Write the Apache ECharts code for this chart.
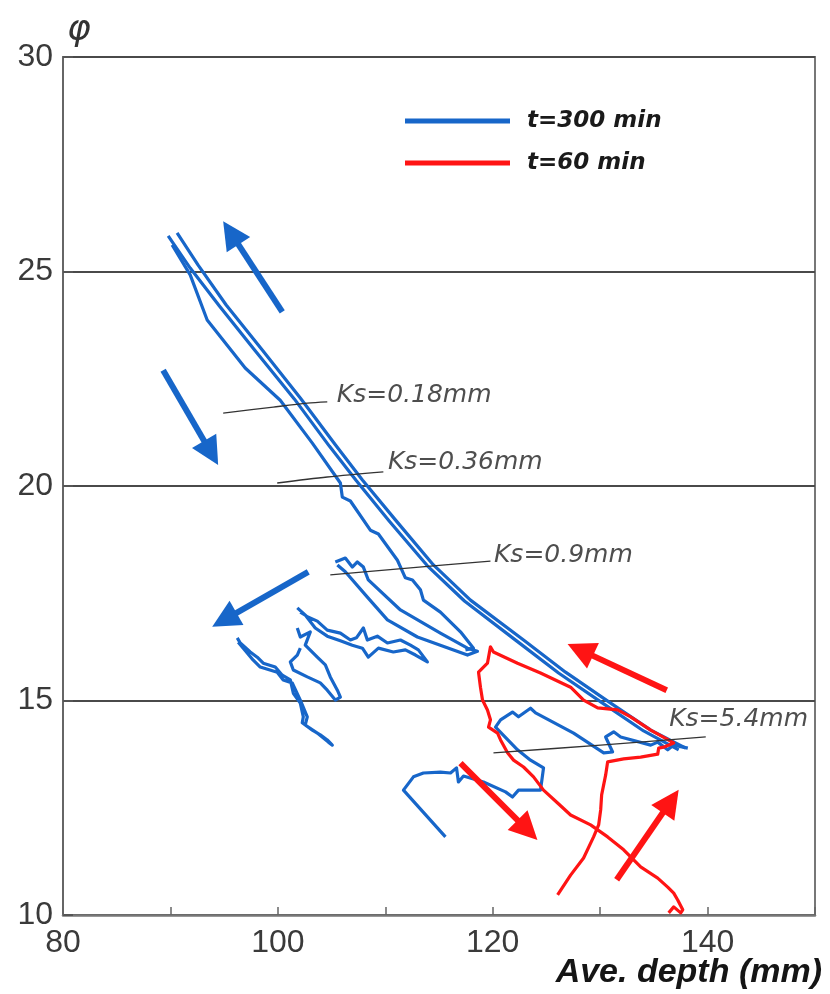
<!DOCTYPE html>
<html>
<head>
<meta charset="utf-8">
<script src="https://cdn.jsdelivr.net/npm/echarts@6/dist/echarts.min.js"></script>
<style>
  html, body { margin: 0; padding: 0; background: #ffffff; }
  #chart { width: 830px; height: 994px; }
</style>
</head>
<body>
<div id="chart"></div>
<script>
// Friction angle φ against average flow depth (mm), hysteresis traces.

// t = 300 min, smooth bed (Ks = 0.18 / 0.36 mm): rising and falling branches
const bandUp = [[90.62,25.90],[92.58,25.15],[95.19,24.22],[98.55,23.17],[102.09,22.05],[105.35,20.96],[107.87,20.14],[110.94,19.21],[114.48,18.16],[117.93,17.34],[122.87,16.41],[126.78,15.66],[130.98,14.94],[134.71,14.31],[137.97,13.89]];
const bandDown = [[89.79,25.83],[91.84,25.08],[94.54,24.20],[97.89,23.15],[101.53,22.03],[104.79,20.93],[107.31,20.12],[110.38,19.18],[113.92,18.14],[117.37,17.32],[122.22,16.39],[126.13,15.64],[130.33,14.92],[134.05,14.29],[137.31,13.85]];
const thinLeft = [[90.16,25.62],[91.84,24.92],[93.42,23.87],[96.96,22.75],[100.22,22.00],[103.21,21.00],[105.82,20.07],[106.00,19.74],[106.75,19.65],[108.61,18.97],[109.36,18.88],[111.13,18.27],[111.87,17.86],[112.53,17.81],[113.27,17.58],[113.55,17.34],[115.13,17.06],[117.00,16.60],[118.21,16.22],[117.46,16.18]];

// t = 300 min, Ks = 0.9 mm: jagged loops
const loopN = [[105.35,18.23],[106.28,18.32],[106.93,18.11],[107.40,18.23],[107.96,18.11],[108.42,17.81],[111.41,17.11],[115.13,16.57],[117.65,16.22],[118.58,16.15],[117.65,16.06],[116.35,16.18],[112.99,16.48],[110.20,16.88],[108.33,17.41],[106.28,18.00],[105.54,18.16]];
const loopJ = [[101.81,17.16],[102.74,16.95],[103.67,16.85],[104.60,16.64],[105.82,16.57],[106.75,16.41],[107.31,16.46],[107.96,16.69],[108.33,16.41],[109.26,16.50],[110.20,16.34],[111.41,16.41],[112.34,16.29],[113.08,16.18],[113.92,15.90],[112.81,16.06],[111.87,16.18],[110.75,16.13],[109.36,16.22],[108.42,16.01],[107.87,16.22],[106.93,16.29],[105.82,16.39],[104.60,16.50],[103.48,16.69],[102.55,16.99],[102.09,17.06]];
const loopJLow = [[101.81,16.69],[102.09,16.48],[103.02,16.60],[102.55,16.29],[103.67,16.01],[104.42,15.83],[104.88,15.55],[105.54,15.24],[105.82,15.08],[105.35,15.01],[104.60,15.24],[103.95,15.41],[102.74,15.55],[101.44,15.71],[101.16,15.90],[101.81,16.06],[102.09,16.22]];
const loopK = [[96.22,16.46],[96.50,16.34],[97.43,16.13],[98.08,16.01],[98.64,15.87],[99.76,15.78],[100.41,15.59],[101.16,15.48],[101.44,15.17],[102.09,14.94],[102.37,14.62],[102.27,14.48],[103.21,14.31],[103.95,14.20],[104.60,14.08],[105.07,13.96],[104.70,14.03],[103.67,14.24],[102.55,14.43],[102.74,14.62],[102.09,15.01],[101.34,15.41],[100.50,15.48],[99.94,15.66],[98.36,15.78],[97.71,15.94],[96.78,16.22],[96.31,16.36]];

// t = 300 min, Ks = 5.4 mm
const ks54 = [[115.60,11.82],[111.69,12.91],[112.62,13.22],[113.55,13.31],[115.13,13.33],[116.07,13.31],[116.63,13.43],[116.81,13.10],[117.28,13.24],[119.14,13.10],[121.19,12.87],[121.84,12.75],[122.40,12.91],[124.45,12.91],[124.73,13.43],[123.52,13.61],[122.31,13.85],[120.26,14.38],[120.73,14.55],[121.84,14.73],[122.40,14.62],[123.52,14.82],[123.99,14.71],[127.53,14.24],[130.33,13.78],[131.16,13.80],[130.51,14.15],[131.26,14.27],[131.91,14.15],[134.71,13.96],[135.36,14.03],[136.29,13.85],[136.85,13.96],[138.16,13.89]];

// t = 60 min
const red60 = [[126.04,10.47],[127.25,10.93],[128.46,11.33],[129.39,11.82],[129.86,12.10],[130.05,12.45],[130.14,12.80],[130.51,13.26],[130.70,13.57],[132.19,13.64],[133.77,13.68],[135.36,13.75],[135.45,13.89],[136.01,13.92],[136.85,14.01],[134.71,14.31],[132.84,14.62],[131.63,14.78],[129.77,14.83],[128.46,15.01],[127.25,15.31],[124.45,15.64],[122.31,15.87],[120.07,16.13],[119.79,16.25],[119.51,15.87],[118.68,15.66],[118.86,15.31],[119.05,15.01],[119.51,14.78],[119.79,14.55],[119.61,14.38],[120.45,14.24],[120.73,14.08],[121.38,13.78],[121.94,13.61],[122.87,13.45],[123.80,13.22],[124.73,12.91],[126.04,12.61],[127.25,12.33],[129.11,12.10],[130.70,11.82],[132.19,11.52],[133.77,11.12],[135.36,10.86],[136.29,10.65],[136.85,10.51],[137.22,10.35],[137.69,10.12],[137.50,10.05],[136.85,10.19],[136.38,10.05]];

// direction arrows: [tail, head]
const arrowsBlue = [[[100.41,24.06],[95.62,25.90]],[[89.32,22.70],[93.79,20.77]],[[102.83,18.00],[95.02,16.88]]];
const arrowsRed = [[[136.20,15.24],[128.15,16.18]],[[117.00,13.54],[123.24,11.98]],[[131.54,10.82],[136.57,12.65]]];

// roughness annotations: leader lines and label anchors
const leader018 = [[94.91,21.70],[99.57,21.84],[102.74,21.93],[104.60,21.96]];
const leader036 = [[99.94,20.07],[104.60,20.21],[109.82,20.33]];
const leader09 = [[104.88,17.93],[112.34,18.09],[119.79,18.25]];
const leader54 = [[120.07,13.78],[130.05,13.96],[139.83,14.15]];
const ksNames = ['Ks=0.18mm','Ks=0.36mm','Ks=0.9mm','Ks=5.4mm'];
const ksAnchors = [[105.44,22.10],[110.20,20.54],[120.07,18.39],[136.38,14.55]];

const BLUE = '#1766c9';
const RED = '#ff1414';
const SANS = "'DejaVu Sans', sans-serif";
const TICK_FONT = "'Liberation Sans', Arial, sans-serif";

const chart = echarts.init(document.getElementById('chart'), null, { renderer: 'canvas' });

function trace(name, data, color) {
  return {
    type: 'line', name: name, data: data,
    showSymbol: false, symbol: 'none', silent: true,
    lineStyle: { color: color, width: 3.2, join: 'round' },
    itemStyle: { color: color },
    z: 3
  };
}
function leader(data) {
  return {
    type: 'line', name: 'leader', data: data, smooth: 0.3,
    showSymbol: false, symbol: 'none', silent: true,
    lineStyle: { color: '#333333', width: 1.3 },
    z: 4
  };
}
function arrows(list, color) {
  return {
    type: 'lines', coordinateSystem: 'cartesian2d', silent: true,
    data: list.map(c => ({ coords: c })),
    symbol: ['none', 'triangle'], symbolSize: 28,
    lineStyle: { color: color, width: 6, opacity: 1, curveness: 0 },
    z: 5
  };
}

const series = [
  trace('t=300 min', bandUp, BLUE),
  trace('t=300 min', bandDown, BLUE),
  trace('t=300 min', thinLeft, BLUE),
  trace('t=300 min', loopN, BLUE),
  trace('t=300 min', loopJ, BLUE),
  trace('t=300 min', loopJLow, BLUE),
  trace('t=300 min', loopK, BLUE),
  trace('t=300 min', ks54, BLUE),
  trace('t=60 min', red60, RED),
  leader(leader018), leader(leader036), leader(leader09), leader(leader54),
  arrows(arrowsBlue, BLUE),
  arrows(arrowsRed, RED),
  {
    type: 'scatter', name: 'ks', silent: true,
    data: ksNames.map((n, i) => ({ name: n, value: ksAnchors[i] })),
    symbolSize: 1, itemStyle: { color: 'rgba(0,0,0,0)' },
    label: {
      show: true, position: 'right', distance: 0, formatter: '{b}',
      fontFamily: SANS, fontStyle: 'italic', fontSize: 25, color: '#222222'
    },
    z: 6
  }
];

chart.setOption({
  animation: false,
  backgroundColor: '#ffffff',
  title: {
    text: 'Ave. depth (mm)', right: 8, top: 956, padding: 0,
    textStyle: {
      fontFamily: TICK_FONT, fontStyle: 'italic', fontWeight: 'bold',
      fontSize: 34, color: '#151515'
    }
  },
  grid: {
    left: 63, right: 15, top: 57, bottom: 79,
    containLabel: false, outerBoundsMode: 'none',
    show: true, borderColor: '#777777', borderWidth: 2, backgroundColor: 'transparent'
  },
  legend: {
    data: [{ name: 't=300 min', icon: 'rect' }, { name: 't=60 min', icon: 'rect' }],
    orient: 'vertical', left: 400, top: 102,
    itemWidth: 105, itemHeight: 5, itemGap: 14,
    selectedMode: false,
    textStyle: {
      fontFamily: SANS, fontStyle: 'italic', fontWeight: 'bold',
      fontSize: 23, color: '#1a1a1a', lineHeight: 28, padding: [0, 0, 0, 12]
    }
  },
  xAxis: {
    type: 'value', min: 80, max: 150, interval: 10,
    axisLine: { show: true, onZero: false, lineStyle: { color: '#777777', width: 2.5 } },
    axisTick: { show: true, inside: true, length: 8, lineStyle: { color: '#666666', width: 1.5 } },
    axisLabel: {
      fontFamily: TICK_FONT, fontSize: 32, color: '#3a3a3a', margin: 12,
      formatter: v => (v % 20 === 0 && v < 150) ? String(v) : ''
    },
    splitLine: { show: false }
  },
  yAxis: {
    type: 'value', min: 10, max: 30, interval: 5,
    name: 'φ', nameLocation: 'end', nameGap: 8,
    nameTextStyle: {
      fontFamily: SANS, fontStyle: 'italic', fontSize: 36, color: '#333333',
      align: 'left', verticalAlign: 'bottom', padding: [0, 0, 0, 4]
    },
    axisLine: { show: true, onZero: false, lineStyle: { color: '#666666', width: 2 } },
    axisTick: { show: true, inside: true, length: 10, lineStyle: { color: '#555555', width: 2 } },
    axisLabel: { fontFamily: TICK_FONT, fontSize: 32, color: '#3a3a3a', margin: 10 },
    splitLine: { show: true, lineStyle: { color: '#4a4a4a', width: 2 } }
  },
  series: series
});
</script>
</body>
</html>
